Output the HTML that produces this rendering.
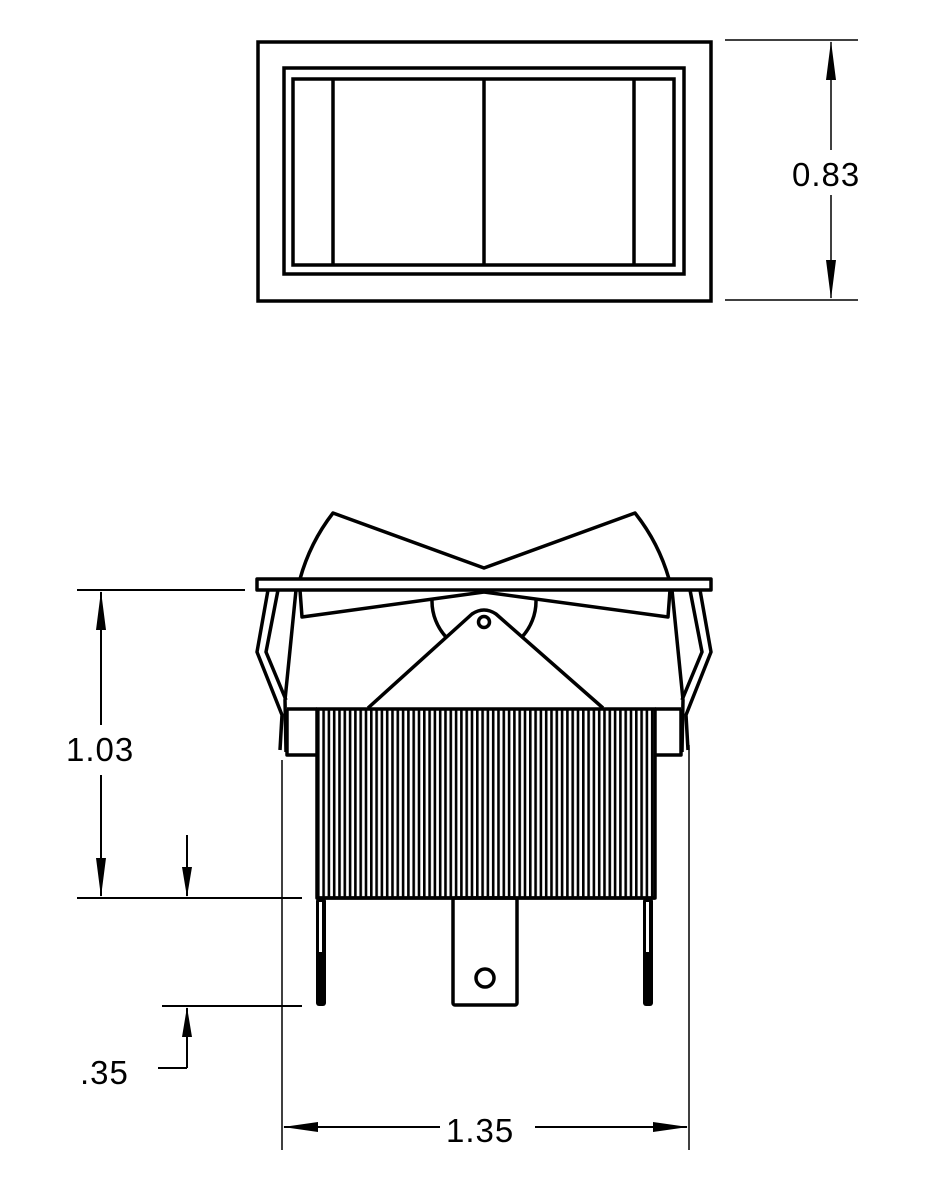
<!DOCTYPE html>
<html><head><style>
html,body{margin:0;padding:0;background:#fff;}
svg{display:block;}
text{font-family:"Liberation Sans",sans-serif;font-size:33px;fill:#000;letter-spacing:1px;}
</style></head><body>
<svg width="940" height="1183" viewBox="0 0 940 1183" xmlns="http://www.w3.org/2000/svg">
<defs>
<pattern id="hatch" x="317" y="0" width="5.3" height="10" patternUnits="userSpaceOnUse">
<rect x="0" y="0" width="2.6" height="10" fill="#000"/>
</pattern>
</defs>
<g fill="none" stroke="#000" stroke-width="3.5">
<rect x="258" y="42" width="453" height="259"/>
<rect x="284" y="68" width="400" height="206"/>
<rect x="293" y="79" width="381" height="186"/>
<line x1="333" y1="79" x2="333" y2="265"/>
<line x1="484" y1="79" x2="484" y2="265"/>
<line x1="634" y1="79" x2="634" y2="265"/>
</g>
<g stroke="#000" stroke-width="1.5" fill="none">
<line x1="725" y1="40" x2="858" y2="40"/>
<line x1="725" y1="300" x2="858" y2="300"/>
<line x1="831" y1="42" x2="831" y2="150"/>
<line x1="831" y1="195" x2="831" y2="298"/>
</g>
<path d="M831,41 L826,80 L836,80 Z M831,299 L826,260 L836,260 Z" fill="#000"/>
<text x="792" y="186">0.83</text>

<g fill="none" stroke="#000" stroke-width="3.5" stroke-linejoin="round">
<path d="M300,579 A190,190 0 0 1 333,513 L484,568 L635,513 A190,190 0 0 1 669,579"/>
<path d="M300,590 L302,617 L484,592 L668,617 L670,590"/>
<path d="M432,600 A53,53 0 0 0 447,638 M536,600 A53,53 0 0 1 521,638"/>
<path d="M368,708 L472,614 Q484,606 496,614 L603,708"/>
<circle cx="484" cy="622" r="5.5"/>
<rect x="257" y="579" width="454" height="11" fill="#fff"/>
<path d="M268,590 L257,652 L282,715 L280,750"/>
<path d="M278,590 L266,652 L286,700"/>
<path d="M296,590 L285,700 L286,752"/>
<path d="M700,590 L711,652 L686,715 L688,750"/>
<path d="M690,590 L702,652 L682,700"/>
<path d="M672,590 L683,700 L682,752"/>
<path d="M287,709 L317,709 M287,709 L287,755 L317,755"/>
<path d="M681,709 L655,709 M681,709 L681,755 L655,755"/>
<rect x="317" y="709" width="338" height="189"/>
</g>
<rect x="318" y="710" width="336" height="187" fill="url(#hatch)"/>
<g fill="none" stroke="#000" stroke-width="3.5">
<line x1="317" y1="898" x2="655" y2="898"/>
<rect x="453" y="898" width="64" height="107" rx="2"/>
<circle cx="485" cy="978" r="9"/>
</g>
<rect x="316" y="898" width="10" height="108" rx="3" fill="#000"/>
<rect x="643" y="898" width="10" height="108" rx="3" fill="#000"/>
<rect x="319" y="902" width="3" height="50" fill="#fff"/>
<rect x="646" y="902" width="3" height="50" fill="#fff"/>

<g stroke="#000" stroke-width="2" fill="none">
<line x1="77" y1="590" x2="245" y2="590"/>
<line x1="77" y1="898" x2="302" y2="898"/>
<line x1="101" y1="592" x2="101" y2="725"/>
<line x1="101" y1="775" x2="101" y2="896"/>
<line x1="187" y1="835" x2="187" y2="896"/>
<line x1="162" y1="1006" x2="302" y2="1006"/>
<line x1="187" y1="1008" x2="187" y2="1068"/>
<line x1="158" y1="1068" x2="187" y2="1068"/>
<line x1="282" y1="760" x2="282" y2="1150" stroke-width="1.5"/>
<line x1="689" y1="745" x2="689" y2="1150" stroke-width="1.5"/>
<line x1="284" y1="1127" x2="440" y2="1127"/>
<line x1="535" y1="1127" x2="687" y2="1127"/>
</g>
<path d="M101,591 L96,630 L106,630 Z M101,897 L96,858 L106,858 Z M187,897 L182,867 L192,867 Z M187,1007 L182,1037 L192,1037 Z M283,1127 L318,1122 L318,1132 Z M688,1127 L653,1122 L653,1132 Z" fill="#000"/>
<text x="66" y="761">1.03</text>
<text x="80" y="1084">.35</text>
<text x="446" y="1142">1.35</text>
</svg>
</body></html>
